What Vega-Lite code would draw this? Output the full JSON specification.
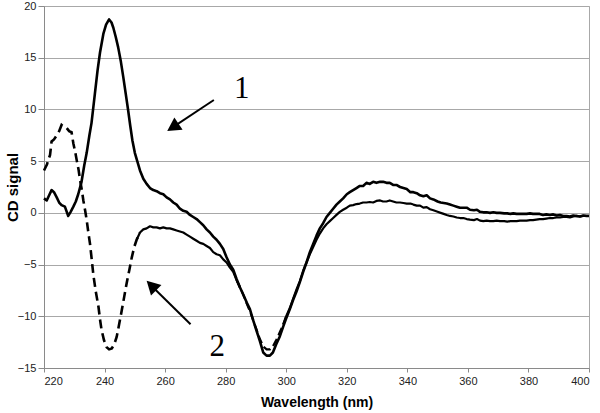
{
  "$schema": "https://vega.github.io/schema/vega-lite/v6.json",
  "width": 545,
  "height": 362,
  "autosize": {"type": "none"},
  "padding": {"left": 44, "top": 6, "right": 11, "bottom": 45},
  "background": "white",
  "config": {
    "view": {"stroke": "#a8a8a8", "strokeWidth": 1},
    "axis": {
      "labelFont": "Liberation Sans",
      "labelFontSize": 11,
      "labelColor": "#222",
      "titleFont": "Liberation Sans",
      "titleFontSize": 15,
      "titleFontWeight": "bold",
      "titleColor": "#000",
      "domainColor": "#8a8a8a",
      "tickColor": "#8a8a8a",
      "gridColor": "#a8a8a8",
      "gridOpacity": 1
    }
  },
  "datasets": {
    "c1": [
      {"wl":220,"cd":1.4},{"wl":220.9,"cd":1.2},{"wl":221.7,"cd":1.7},{"wl":222.5,"cd":2.2},{"wl":223.3,"cd":2.0},{"wl":224.2,"cd":1.5},{"wl":225,"cd":1.0},{"wl":225.8,"cd":0.75},{"wl":226.9,"cd":0.6},{"wl":228,"cd":-0.3},{"wl":228.8,"cd":0.1},{"wl":229.7,"cd":0.6},{"wl":230.5,"cd":1.1},{"wl":231.3,"cd":1.8},{"wl":232.4,"cd":3.0},{"wl":233.3,"cd":4.6},{"wl":234.1,"cd":5.8},{"wl":235,"cd":7.5},{"wl":235.7,"cd":8.7},{"wl":236.8,"cd":11.5},{"wl":237.7,"cd":13.8},{"wl":238.5,"cd":15.5},{"wl":239.6,"cd":17.3},{"wl":240.5,"cd":18.2},{"wl":241.5,"cd":18.7},{"wl":242.3,"cd":18.4},{"wl":242.9,"cd":17.9},{"wl":243.7,"cd":17.0},{"wl":244.5,"cd":16.0},{"wl":245.4,"cd":14.6},{"wl":246.2,"cd":13.1},{"wl":247,"cd":11.5},{"wl":247.8,"cd":9.9},{"wl":248.5,"cd":8.4},{"wl":249.2,"cd":7.0},{"wl":250,"cd":5.8},{"wl":250.8,"cd":5.0},{"wl":251.7,"cd":4.1},{"wl":252.8,"cd":3.3},{"wl":253.9,"cd":2.8},{"wl":255,"cd":2.4},{"wl":256.1,"cd":2.2},{"wl":257.2,"cd":2.1},{"wl":258.3,"cd":1.9},{"wl":259.4,"cd":1.8},{"wl":260.5,"cd":1.5},{"wl":261.6,"cd":1.3},{"wl":262.7,"cd":1.0},{"wl":263.8,"cd":0.8},{"wl":264.9,"cd":0.4},{"wl":266,"cd":0.2},{"wl":267.1,"cd":0.1},{"wl":268.2,"cd":-0.2},{"wl":269.3,"cd":-0.4},{"wl":270.4,"cd":-0.6},{"wl":271.5,"cd":-0.9},{"wl":272.6,"cd":-1.2},{"wl":273.7,"cd":-1.6},{"wl":274.8,"cd":-1.9},{"wl":275.9,"cd":-2.3},{"wl":277,"cd":-2.6},{"wl":278.1,"cd":-3.0},{"wl":279.2,"cd":-3.5},{"wl":280.3,"cd":-4.3},{"wl":281.4,"cd":-5.0},{"wl":282.5,"cd":-5.5},{"wl":283.6,"cd":-6.4},{"wl":284.7,"cd":-7.2},{"wl":285.8,"cd":-7.9},{"wl":287,"cd":-8.7},{"wl":288,"cd":-9.3},{"wl":289.1,"cd":-10.4},{"wl":290.2,"cd":-11.4},{"wl":291.3,"cd":-12.4},{"wl":292.4,"cd":-13.5},{"wl":293.5,"cd":-13.8},{"wl":294.6,"cd":-13.8},{"wl":295.6,"cd":-13.5},{"wl":296.7,"cd":-12.7},{"wl":297.8,"cd":-12.0},{"wl":299,"cd":-11.0},{"wl":300,"cd":-10.2},{"wl":301.2,"cd":-9.3},{"wl":302.3,"cd":-8.4},{"wl":303.4,"cd":-7.6},{"wl":304.5,"cd":-6.7},{"wl":305.6,"cd":-5.7},{"wl":306.7,"cd":-4.8},{"wl":307.8,"cd":-3.8},{"wl":308.9,"cd":-3.0},{"wl":310,"cd":-2.2},{"wl":311.1,"cd":-1.5},{"wl":312.2,"cd":-1.0},{"wl":313.3,"cd":-0.4},{"wl":314.4,"cd":0.0},{"wl":315.5,"cd":0.4},{"wl":316.6,"cd":0.8},{"wl":317.7,"cd":1.1},{"wl":318.8,"cd":1.4},{"wl":320,"cd":1.8},{"wl":321,"cd":2.0},{"wl":322.1,"cd":2.2},{"wl":323.2,"cd":2.4},{"wl":324.3,"cd":2.6},{"wl":325.4,"cd":2.6},{"wl":326.5,"cd":2.9},{"wl":327.6,"cd":2.8},{"wl":328.7,"cd":3.0},{"wl":329.8,"cd":2.9},{"wl":331,"cd":3.0},{"wl":332,"cd":3.0},{"wl":333.1,"cd":2.9},{"wl":334.2,"cd":2.9},{"wl":335.3,"cd":2.7},{"wl":336.4,"cd":2.7},{"wl":337.6,"cd":2.5},{"wl":338.7,"cd":2.4},{"wl":339.8,"cd":2.3},{"wl":341,"cd":2.0},{"wl":342,"cd":2.0},{"wl":343.1,"cd":1.9},{"wl":344.2,"cd":1.7},{"wl":345.3,"cd":1.6},{"wl":346.4,"cd":1.7},{"wl":347.5,"cd":1.4},{"wl":348.6,"cd":1.3},{"wl":350,"cd":1.1},{"wl":351,"cd":1.0},{"wl":352,"cd":0.95},{"wl":353,"cd":0.9},{"wl":354.1,"cd":0.8},{"wl":355.2,"cd":0.7},{"wl":356.3,"cd":0.6},{"wl":357.4,"cd":0.5},{"wl":358.5,"cd":0.5},{"wl":359.6,"cd":0.5},{"wl":360.7,"cd":0.3},{"wl":362,"cd":0.25},{"wl":363,"cd":0.3},{"wl":364,"cd":0.1},{"wl":365.1,"cd":0.05},{"wl":366.2,"cd":0.05},{"wl":367.3,"cd":0.0},{"wl":368.4,"cd":0.05},{"wl":369.5,"cd":0.0},{"wl":370.6,"cd":0.0},{"wl":372,"cd":-0.05},{"wl":373,"cd":-0.05},{"wl":374,"cd":-0.1},{"wl":375,"cd":-0.05},{"wl":376.1,"cd":-0.1},{"wl":377.2,"cd":-0.1},{"wl":378.3,"cd":-0.1},{"wl":379.4,"cd":-0.1},{"wl":380.5,"cd":-0.05},{"wl":381.5,"cd":-0.1},{"wl":382.6,"cd":-0.1},{"wl":383.7,"cd":-0.1},{"wl":384.8,"cd":-0.2},{"wl":385.9,"cd":-0.15},{"wl":387.1,"cd":-0.2},{"wl":388.2,"cd":-0.15},{"wl":389.3,"cd":-0.25},{"wl":390.4,"cd":-0.2},{"wl":391.5,"cd":-0.3},{"wl":392.6,"cd":-0.3},{"wl":393.7,"cd":-0.35},{"wl":394.8,"cd":-0.25},{"wl":395.9,"cd":-0.3},{"wl":397,"cd":-0.35},{"wl":398.1,"cd":-0.25},{"wl":399.2,"cd":-0.3},{"wl":400,"cd":-0.3}
    ],
    "c2": [
      {"wl":220,"cd":4.1},{"wl":221,"cd":4.7},{"wl":221.4,"cd":5.1},{"wl":222,"cd":5.6},{"wl":222.5,"cd":6.9},{"wl":223.3,"cd":7.1},{"wl":224.2,"cd":7.5},{"wl":225,"cd":7.9},{"wl":225.8,"cd":8.5},{"wl":226.6,"cd":8.3},{"wl":227.5,"cd":8.2},{"wl":228.3,"cd":7.9},{"wl":229.1,"cd":7.8},{"wl":229.7,"cd":6.7},{"wl":230.3,"cd":5.9},{"wl":230.8,"cd":5.1},{"wl":231.4,"cd":4.2},{"wl":231.9,"cd":3.2},{"wl":232.5,"cd":2.2},{"wl":233,"cd":1.2},{"wl":233.6,"cd":0.2},{"wl":234.1,"cd":-0.7},{"wl":234.6,"cd":-1.8},{"wl":235.2,"cd":-3.0},{"wl":235.8,"cd":-4.6},{"wl":236.3,"cd":-6.0},{"wl":237.1,"cd":-7.6},{"wl":238,"cd":-9.1},{"wl":238.5,"cd":-10.3},{"wl":239,"cd":-11.3},{"wl":239.8,"cd":-12.3},{"wl":240.7,"cd":-13.0},{"wl":241.5,"cd":-13.2},{"wl":242.4,"cd":-13.1},{"wl":243.2,"cd":-12.7},{"wl":244,"cd":-12.0},{"wl":244.8,"cd":-10.8},{"wl":245.7,"cd":-9.4},{"wl":246.5,"cd":-8.1},{"wl":247.3,"cd":-6.8},{"wl":248.2,"cd":-5.5},{"wl":249,"cd":-4.3},{"wl":249.8,"cd":-3.3},{"wl":250.6,"cd":-2.6},{"wl":251.7,"cd":-1.9},{"wl":252.8,"cd":-1.6},{"wl":253.9,"cd":-1.5},{"wl":255,"cd":-1.3},{"wl":256.1,"cd":-1.4},{"wl":257.2,"cd":-1.4},{"wl":258.3,"cd":-1.5},{"wl":259.4,"cd":-1.4},{"wl":260.5,"cd":-1.5},{"wl":261.6,"cd":-1.5},{"wl":262.7,"cd":-1.6},{"wl":263.8,"cd":-1.7},{"wl":264.9,"cd":-1.8},{"wl":266,"cd":-1.9},{"wl":267.1,"cd":-2.1},{"wl":268.2,"cd":-2.3},{"wl":269.3,"cd":-2.5},{"wl":270.4,"cd":-2.7},{"wl":271.5,"cd":-2.9},{"wl":272.6,"cd":-3.0},{"wl":273.7,"cd":-3.2},{"wl":274.8,"cd":-3.4},{"wl":275.9,"cd":-3.8},{"wl":277,"cd":-4.0},{"wl":278.1,"cd":-4.1},{"wl":279.2,"cd":-4.5},{"wl":280.3,"cd":-4.8},{"wl":281.4,"cd":-5.3},{"wl":282.5,"cd":-5.7},{"wl":283.6,"cd":-6.5},{"wl":284.7,"cd":-7.2},{"wl":285.8,"cd":-7.9},{"wl":287,"cd":-8.8},{"wl":288,"cd":-9.5},{"wl":289.1,"cd":-10.4},{"wl":290.2,"cd":-11.3},{"wl":291.3,"cd":-12.2},{"wl":292.4,"cd":-12.9},{"wl":293.5,"cd":-13.2},{"wl":294.6,"cd":-13.2},{"wl":295.6,"cd":-12.9},{"wl":296.7,"cd":-12.3},{"wl":297.8,"cd":-11.6},{"wl":299,"cd":-10.8},{"wl":300,"cd":-10.0},{"wl":301.2,"cd":-9.2},{"wl":302.3,"cd":-8.3},{"wl":303.4,"cd":-7.4},{"wl":304.5,"cd":-6.6},{"wl":305.6,"cd":-5.6},{"wl":306.7,"cd":-4.8},{"wl":307.8,"cd":-4.0},{"wl":308.9,"cd":-3.3},{"wl":310,"cd":-2.6},{"wl":311.1,"cd":-2.0},{"wl":312.2,"cd":-1.5},{"wl":313.3,"cd":-1.1},{"wl":314.4,"cd":-0.8},{"wl":315.5,"cd":-0.5},{"wl":316.6,"cd":-0.2},{"wl":317.7,"cd":0.1},{"wl":318.8,"cd":0.3},{"wl":320,"cd":0.5},{"wl":321,"cd":0.7},{"wl":322.1,"cd":0.75},{"wl":323.2,"cd":0.85},{"wl":324.3,"cd":0.9},{"wl":325.4,"cd":1.0},{"wl":326.5,"cd":1.0},{"wl":327.6,"cd":1.05},{"wl":328.7,"cd":1.0},{"wl":329.8,"cd":1.15},{"wl":331,"cd":1.2},{"wl":332,"cd":1.1},{"wl":333.1,"cd":1.1},{"wl":334.2,"cd":1.2},{"wl":335.3,"cd":1.1},{"wl":336.4,"cd":1.0},{"wl":337.6,"cd":1.0},{"wl":338.7,"cd":0.95},{"wl":339.8,"cd":0.9},{"wl":341,"cd":0.9},{"wl":342,"cd":0.8},{"wl":343.1,"cd":0.7},{"wl":344.2,"cd":0.7},{"wl":345.3,"cd":0.5},{"wl":346.4,"cd":0.55},{"wl":347.5,"cd":0.35},{"wl":348.6,"cd":0.25},{"wl":350,"cd":0.1},{"wl":351,"cd":0.0},{"wl":352,"cd":-0.1},{"wl":353,"cd":-0.2},{"wl":354.1,"cd":-0.3},{"wl":355.2,"cd":-0.35},{"wl":356.3,"cd":-0.45},{"wl":357.4,"cd":-0.5},{"wl":358.5,"cd":-0.5},{"wl":359.6,"cd":-0.6},{"wl":360.7,"cd":-0.65},{"wl":362,"cd":-0.7},{"wl":363,"cd":-0.6},{"wl":364,"cd":-0.75},{"wl":365.1,"cd":-0.8},{"wl":366.2,"cd":-0.75},{"wl":367.3,"cd":-0.8},{"wl":368.4,"cd":-0.8},{"wl":369.5,"cd":-0.75},{"wl":370.6,"cd":-0.8},{"wl":372,"cd":-0.8},{"wl":373,"cd":-0.85},{"wl":374,"cd":-0.8},{"wl":375,"cd":-0.8},{"wl":376.1,"cd":-0.8},{"wl":377.2,"cd":-0.75},{"wl":378.3,"cd":-0.75},{"wl":379.4,"cd":-0.75},{"wl":380.5,"cd":-0.7},{"wl":381.5,"cd":-0.7},{"wl":382.6,"cd":-0.65},{"wl":383.7,"cd":-0.6},{"wl":384.8,"cd":-0.6},{"wl":385.9,"cd":-0.55},{"wl":387.1,"cd":-0.5},{"wl":388.2,"cd":-0.5},{"wl":389.3,"cd":-0.45},{"wl":390.4,"cd":-0.45},{"wl":391.5,"cd":-0.4},{"wl":392.6,"cd":-0.4},{"wl":393.7,"cd":-0.45},{"wl":394.8,"cd":-0.35},{"wl":395.9,"cd":-0.3},{"wl":397,"cd":-0.35},{"wl":398.1,"cd":-0.3},{"wl":399.2,"cd":-0.3},{"wl":400,"cd":-0.3}
    ],
    "labels": [
      {"wl":285.3,"cd":12.04,"t":"1"},
      {"wl":277.2,"cd":-12.87,"t":"2"}
    ],
    "arrows": [
      {"id":"1","wl":276.1,"cd":10.91,"wl2":261.6,"cd2":8.1},
      {"id":"2","wl":268.4,"cd":-10.77,"wl2":254.8,"cd2":-6.85}
    ],
    "heads": [
      {"id":"1","wl":260.7,"cd":7.91},
      {"id":"2","wl":253.9,"cd":-6.56}
    ]
  },
  "encoding": {
    "x": {
      "field": "wl", "type": "quantitative",
      "scale": {"domain": [220, 400], "nice": false, "zero": false},
      "axis": {
        "values": [220,240,260,280,300,320,340,360,380,400],
        "grid": false, "tickSize": 4, "labelPadding": 3,
        "title": "Wavelength (nm)", "titleFontSize": 14,
        "titleY": 34, "titleBaseline": "middle"
      }
    },
    "y": {
      "field": "cd", "type": "quantitative",
      "scale": {"domain": [-15, 20], "nice": false, "zero": false},
      "axis": {
        "values": [-15,-10,-5,0,5,10,15,20],
        "grid": true, "tickSize": 6, "labelPadding": 2,
        "title": "CD signal",
        "titleX": -32, "titleY": 181, "titleAlign": "center", "titleBaseline": "middle", "titleAngle": -90
      }
    }
  },
  "layer": [
    {
      "data": {"name": "c1"},
      "mark": {"type": "line", "color": "black", "strokeWidth": 2.6, "strokeJoin": "round"}
    },
    {
      "data": {"name": "c2"},
      "transform": [{"filter": {"field": "wl", "range": [220, 251.7]}}],
      "mark": {"type": "line", "color": "black", "strokeWidth": 2.6, "strokeDash": [9, 5]}
    },
    {
      "data": {"name": "c2"},
      "transform": [{"filter": {"field": "wl", "range": [250.6, 284.7]}}],
      "mark": {"type": "line", "color": "black", "strokeWidth": 2.2, "strokeJoin": "round"}
    },
    {
      "data": {"name": "c2"},
      "transform": [{"filter": {"field": "wl", "range": [283.6, 300]}}],
      "mark": {"type": "line", "color": "black", "strokeWidth": 2.2, "strokeDash": [8, 4]}
    },
    {
      "data": {"name": "c2"},
      "transform": [{"filter": {"field": "wl", "range": [299, 400]}}],
      "mark": {"type": "line", "color": "black", "strokeWidth": 2.2, "strokeJoin": "round"}
    },
    {
      "data": {"name": "arrows"},
      "mark": {"type": "rule", "color": "black", "strokeWidth": 2},
      "encoding": {"x2": {"field": "wl2"}, "y2": {"field": "cd2"}}
    },
    {
      "data": {"name": "heads"},
      "transform": [{"filter": "datum.id == '1'"}],
      "mark": {"type": "point", "shape": "M0,0L-0.55,1L0.55,1Z", "filled": true, "color": "black", "opacity": 1, "size": 729, "angle": 236.4, "strokeWidth": 0}
    },
    {
      "data": {"name": "heads"},
      "transform": [{"filter": "datum.id == '2'"}],
      "mark": {"type": "point", "shape": "M0,0L-0.55,1L0.55,1Z", "filled": true, "color": "black", "opacity": 1, "size": 729, "angle": 314.8, "strokeWidth": 0}
    },
    {
      "data": {"name": "labels"},
      "mark": {"type": "text", "font": "Liberation Serif", "fontSize": 31, "color": "black", "align": "center", "baseline": "middle", "dy": 1},
      "encoding": {"text": {"field": "t"}}
    }
  ]
}
